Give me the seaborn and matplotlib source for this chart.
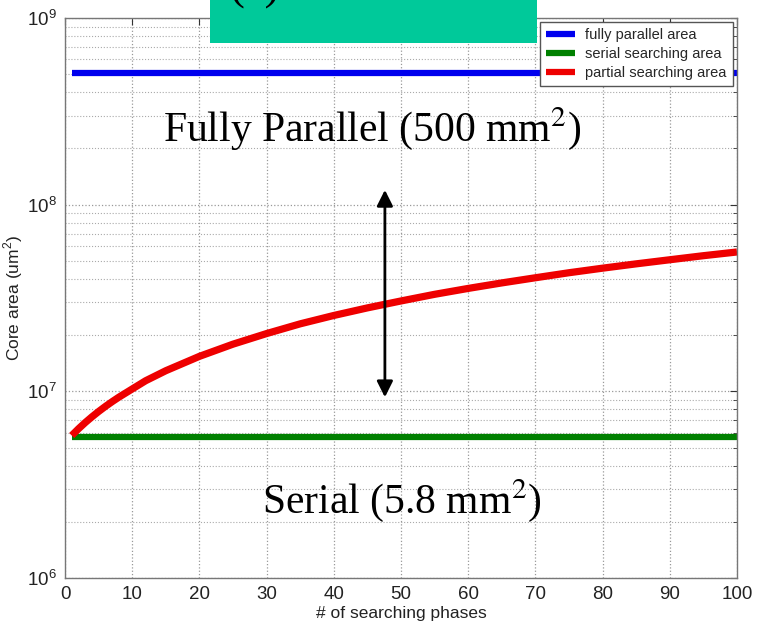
#!/usr/bin/env python3

import numpy as np
import pandas as pd
import matplotlib.pyplot as plt
import matplotlib.patches as mpatches
from matplotlib.ticker import LogLocator, NullFormatter
import seaborn as sb

# data (core area in um^2) #
phases = [1, 2, 3, 4, 5, 6, 7, 8, 10, 12, 15, 20, 25, 30, 35, 40, 45, 50,
          55, 60, 65, 70, 75, 80, 85, 90, 95, 100]
partial_area = [5.8e6, 6.3e6, 6.8e6, 7.3e6, 7.8e6, 8.3e6, 8.8e6, 9.3e6,
                10.3e6, 11.4e6, 12.9e6, 15.4e6, 17.9e6, 20.4e6, 23.0e6,
                25.5e6, 28.0e6, 30.5e6, 33.1e6, 35.6e6, 38.1e6, 40.6e6,
                43.2e6, 45.7e6, 48.2e6, 50.7e6, 53.3e6, 55.8e6]
flat_x = [1, 100]
parallel_area = [5.1e8, 5.1e8]
serial_area = [5.7e6, 5.7e6]
series_names = ['fully parallel area', 'serial searching area', 'partial searching area']
series_colors = ['#0000ee', '#008000', '#ee0000']

# build long data frame #
df = pd.concat([
    pd.DataFrame({'phases': flat_x, 'area': parallel_area, 'series': series_names[0]}),
    pd.DataFrame({'phases': flat_x, 'area': serial_area, 'series': series_names[1]}),
    pd.DataFrame({'phases': phases, 'area': partial_area, 'series': series_names[2]}),
])

# configure style #
sb.set_style('white')
plt.rcParams['font.family'] = ['Liberation Sans', 'DejaVu Sans']
plt.rcParams['mathtext.fontset'] = 'custom'
plt.rcParams['mathtext.rm'] = 'Liberation Sans'

fig = plt.figure(figsize=(7.57, 6.21), dpi=100)
ax = fig.add_axes([0.0859, 0.0692, 0.8877, 0.9018])

ax = sb.lineplot(data=df, x='phases', y='area', hue='series',
                 hue_order=series_names, palette=series_colors,
                 linewidth=4.5, ax=ax)
for line in ax.lines:
    line.set_solid_capstyle('butt')
    line.set_solid_joinstyle('round')
ax.lines[2].set_linewidth(5.2)

ax.set_yscale('log')
ax.set_ylim(1e6, 1e9)
ax.set_xlim(0, 100)
ax.set_xticks(np.arange(0, 101, 10))
ax.yaxis.set_major_locator(LogLocator(base=10, numticks=10))
ax.yaxis.set_minor_locator(LogLocator(base=10, subs=np.arange(2, 10), numticks=20))
ax.yaxis.set_minor_formatter(NullFormatter())

# matlab style frame and grid #
ax.tick_params(which='both', direction='in', top=True, right=True, labelsize=13.5,
               colors='#333333', labelcolor='#222222')
ax.tick_params(which='major', length=5, pad=6)
ax.tick_params(which='minor', length=3)
ax.grid(True, which='major', axis='both', linestyle=':', color='#999999', linewidth=0.9)
ax.grid(True, which='minor', axis='y', linestyle=':', color='#aaaaaa', linewidth=0.8)
for spine in ax.spines.values():
    spine.set_color('#777777')
    spine.set_linewidth(1.0)

ax.set_xlabel('# of searching phases', fontsize=12.5, labelpad=2, color='#222222')
ax.set_ylabel('Core area (um$^2$)', fontsize=12.5, color='#222222')
ax.yaxis.set_label_coords(-0.06, 0.5)

# legend #
leg = ax.legend(loc='upper right', fontsize=10.5, frameon=True, fancybox=False,
                framealpha=1, borderaxespad=0.3, handlelength=2.0,
                labelspacing=0.35, borderpad=0.4, handletextpad=0.7)
leg.get_frame().set_edgecolor('#555555')
leg.get_frame().set_linewidth(1.0)
for h in leg.legend_handles:
    h.set_linewidth(4.5)

# annotations #
ax.text(45.7, 2.55e8, 'Fully Parallel (500 mm$^2$)', family='Liberation Serif',
        fontsize=30, color='black', ha='center', va='center', math_fontfamily='stix')
ax.text(50.1, 2.6e6, 'Serial (5.8 mm$^2$)', family='Liberation Serif',
        fontsize=30, color='black', ha='center', va='center', math_fontfamily='stix')
ax.annotate('', xy=(47.6, 1.2e8), xytext=(47.6, 9.3e6),
            arrowprops=dict(arrowstyle='<|-|>', color='black', lw=2,
                            mutation_scale=24, shrinkA=0, shrinkB=0))

# teal box at the top #
rect = mpatches.Rectangle((210 / 757, 1 - 43 / 621), 327 / 757, 43 / 621,
                          transform=fig.transFigure, facecolor='#00c99a',
                          edgecolor='none', zorder=10)
fig.add_artist(rect)
fig.text(230 / 757, 1.0, '(a)', family='Liberation Serif', fontsize=32,
         color='black', ha='left', va='baseline', zorder=11)

plt.savefig('out.png', dpi=100)
